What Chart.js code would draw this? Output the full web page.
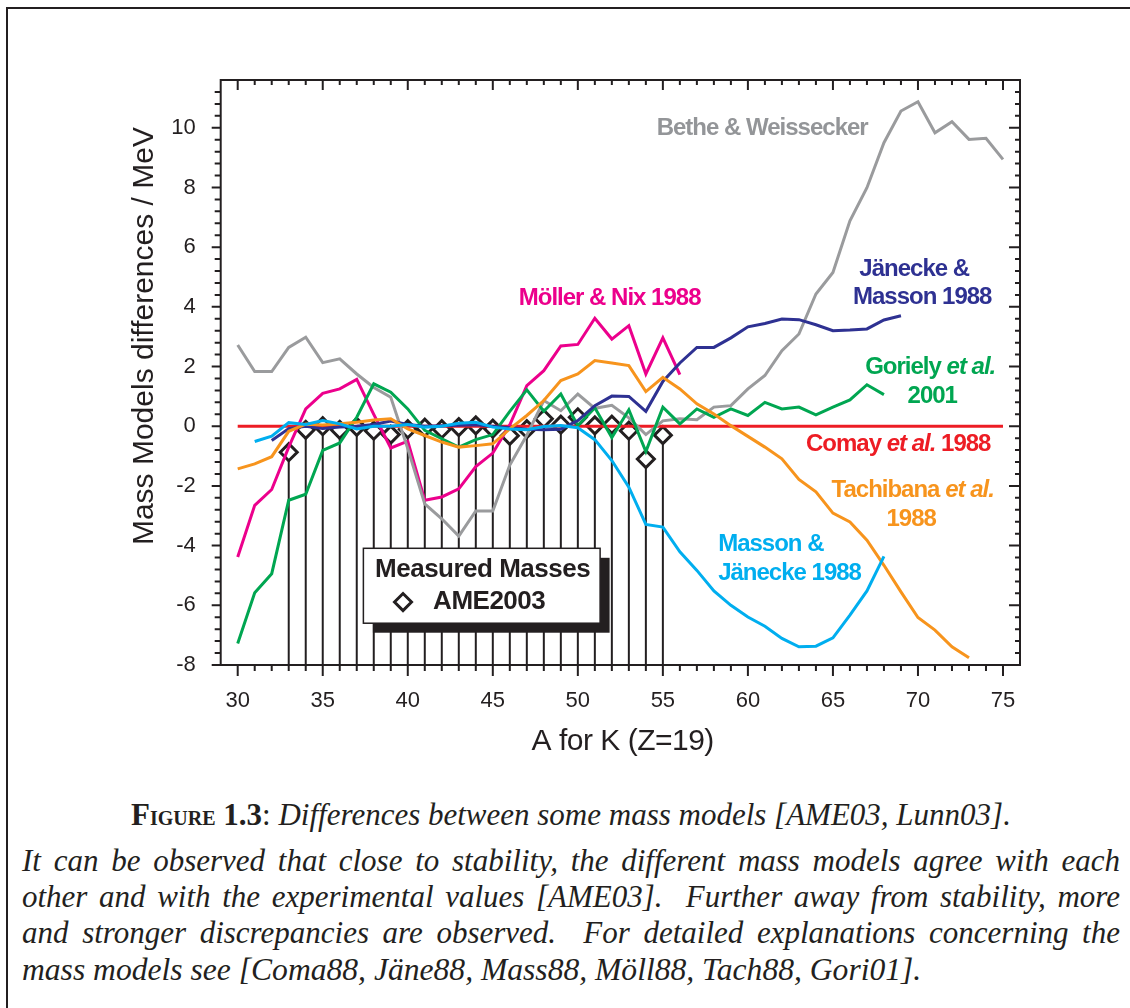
<!DOCTYPE html>
<html><head><meta charset="utf-8">
<script src="https://cdn.jsdelivr.net/npm/chart.js@4.4.0/dist/chart.umd.min.js"></script>
<style>
html,body{margin:0;padding:0;background:#fff;width:1130px;height:1008px;overflow:hidden;}
#frame{position:absolute;left:6px;top:7px;width:1300px;height:1200px;border-left:2.3px solid #231f20;border-top:2.3px solid #231f20;}
#wrap{position:absolute;left:0;top:0;width:1130px;height:785px;}
.cap{position:absolute;left:22px;width:1098px;font-family:'Liberation Serif','Times New Roman',serif;font-size:31px;line-height:36px;color:#231f20;font-style:italic;white-space:nowrap;}
.just{text-align:justify;text-align-last:justify;}
.sc{font-variant:small-caps;font-size:29px;}
</style></head>
<body>
<div id="frame"></div>
<div id="wrap"><canvas id="c" width="1130" height="785"></canvas></div>
<div class="cap" style="top:797px;text-align:center;"><b style="font-style:normal">F<span class="sc">igure</span> 1.3</b><span style="font-style:normal">:</span> Differences between some mass models [AME03, Lunn03].</div>
<div class="cap just" style="top:843px;">It can be observed that close to stability, the different mass models agree with each</div>
<div class="cap just" style="top:879px;">other and with the experimental values [AME03].&nbsp; Further away from stability, more</div>
<div class="cap just" style="top:915px;">and stronger discrepancies are observed.&nbsp; For detailed explanations concerning the</div>
<div class="cap" style="top:952px;font-size:31.6px;">mass models see [Coma88, Jäne88, Mass88, Möll88, Tach88, Gori01].</div>
<script>
// ---------------- data ----------------
const massNumbers = [30,31,32,33,34,35,36,37,38,39,40,41,42,43,44,45,46,47,48,49,50,51,52,53,54,55,56,57,58,59,60,61,62,63,64,65,66,67,68,69,70,71,72,73,74,75];
const betheWeissecker = [2.72,1.83,1.83,2.64,2.98,2.13,2.26,1.75,1.3,0.97,
  -0.75,-2.6,-3.1,-3.68,-2.84,-2.84,-1.3,-0.3,0.86,0.52,
  1.08,0.6,0.7,0.28,-0.28,0.18,0.25,0.22,0.64,0.69,
  1.25,1.7,2.53,3.09,4.43,5.15,6.88,7.99,9.5,10.56,
  10.87,9.83,10.2,9.61,9.65,8.94];
const mollerNix = [-4.38,-2.65,-2.12,-0.7,0.58,1.1,1.25,1.57,0.4,-0.73,
  -0.5,-2.48,-2.37,-2.1,-1.35,-0.9,0.05,1.36,1.86,2.69,
  2.74,3.62,2.92,3.37,1.75,2.96,1.73,null,null,null,
  null,null,null,null,null,null,null,null,null,null,
  null,null,null,null,null,null];
const goriely = [-7.28,-5.58,-4.94,-2.48,-2.28,-0.81,-0.56,0.3,1.42,1.14,
  0.58,-0.14,-0.42,-0.7,-0.45,-0.28,0.5,1.22,0.5,1.08,
  0.02,0.62,-0.38,0.55,-0.85,0.64,0.08,0.58,0.3,0.58,
  0.36,0.8,0.58,0.64,0.38,0.64,0.88,1.39,1.06,null,
  null,null,null,null,null,null];
const tachibana = [-1.43,-1.26,-1.02,-0.17,0.07,0.04,0.08,0.13,0.21,0.25,
  -0.09,-0.31,-0.53,-0.7,-0.65,-0.59,-0.09,0.36,0.86,1.53,
  1.75,2.2,2.12,2.03,1.16,1.64,1.25,0.75,0.41,0.02,
  -0.34,-0.7,-1.09,-1.78,-2.2,-2.91,-3.21,-3.82,-4.66,-5.55,
  -6.41,-6.83,-7.39,-7.76,null,null];
const massonJanecke = [null,-0.51,-0.33,0.12,0.06,0.19,0.08,-0.09,0.0,0.0,
  0.06,-0.03,0.0,0.1,0.13,-0.03,-0.09,-0.12,-0.01,0.02,
  -0.05,-0.45,-1.15,-2.04,-3.29,-3.38,-4.21,-4.83,-5.52,-6.0,
  -6.39,-6.7,-7.11,-7.39,-7.37,-7.09,-6.33,-5.52,-4.36,null,
  null,null,null,null,null,null];
const janeckeMasson = [null,null,-0.48,-0.08,0.0,-0.08,-0.03,0.0,0.06,0.17,
  0.06,0.0,0.02,0.03,0.05,0.0,-0.05,-0.1,-0.12,-0.1,
  0.19,0.69,1.01,1.0,0.5,1.5,2.12,2.64,2.64,2.96,
  3.33,3.44,3.59,3.57,3.4,3.2,3.22,3.26,3.56,3.7,
  null,null,null,null,null,null];
const comay = [0,0,0,0,0,0,0,0,0,0, 0,0,0,0,0,0,0,0,0,0, 0,0,0,0,0,0,0,0,0,0, 0,0,0,0,0,0,0,0,0,0, 0,0,0,0,0,0];
const ameMass = [33,34,35,36,37,38,39,40,41,42,43,44,45,46,47,48,49,50,51,52,53,54,55];
const ameDiff = [-0.87,-0.12,0.0,-0.12,-0.02,-0.15,-0.28,-0.1,-0.05,-0.1,-0.03,0.03,-0.08,-0.32,-0.1,0.25,0.05,0.3,0.03,0.05,-0.15,-1.1,-0.3];
const xTickValues = [30,35,40,45,50,55,60,65,70,75];
const yTickValues = [-8,-6,-4,-2,0,2,4,6,8,10];

// ---------------- styles ----------------
const INK = '#231f20';
const C = {gray:'#9a9b9d', grayTxt:'#939598', pink:'#ec008c', green:'#00a651', orange:'#f7941d', blue:'#00aeef', navy:'#2e3192', red:'#ed1c24'};
const DIAMOND_R = 8.5;
const SANS = '"Liberation Sans", Arial, Helvetica, sans-serif';

const pts = vals => massNumbers.map((a,i)=>({x:a,y:vals[i]})).filter(p=>p.y!==null);
const lineDs = (label, vals, color) => ({label, data: pts(vals), borderColor: color, borderWidth: 3, pointRadius: 0, tension: 0, fill: false, borderJoinStyle: 'miter'});

const annotations = [
  {x:60.84, y:10.06, align:'center', color:C.grayTxt, parts:[['Bethe & Weissecker',0]]},
  {x:51.87, y:4.36, align:'center', color:C.pink, parts:[['Möller & Nix 1988',0]]},
  {x:69.78, y:5.335, align:'center', color:C.navy, parts:[['Jänecke &',0]]},
  {x:70.25, y:4.397, align:'center', color:C.navy, parts:[['Masson 1988',0]]},
  {x:70.72, y:2.05, align:'center', color:C.green, parts:[['Goriely ',0],['et al.',1]]},
  {x:70.84, y:1.08, align:'center', color:C.green, parts:[['2001',0]]},
  {x:68.84, y:-0.53, align:'center', color:C.red, parts:[['Comay ',0],['et al.',1],[' 1988',0]]},
  {x:69.69, y:-2.07, align:'center', color:C.orange, parts:[['Tachibana ',0],['et al.',1]]},
  {x:69.6, y:-3.04, align:'center', color:C.orange, parts:[['1988',0]]},
  {x:58.25, y:-3.88, align:'left', color:C.blue, parts:[['Masson &',0]]},
  {x:58.25, y:-4.85, align:'left', color:C.blue, parts:[['Jänecke 1988',0]]}
];

function drawParts(ctx, parts, x, yc, align, color, size, spacing) {
  ctx.save();
  ctx.fillStyle = color;
  ctx.letterSpacing = spacing;
  ctx.textAlign = 'left';
  ctx.textBaseline = 'alphabetic';
  const fonts = parts.map(p => (p[1] ? 'italic ' : '') + 'bold ' + size + 'px ' + SANS);
  const widths = parts.map((p,i)=>{ctx.font = fonts[i]; return ctx.measureText(p[0]).width;});
  const total = widths.reduce((s,w)=>s+w,0);
  let sx = align==='center' ? x - total/2 : (align==='right' ? x - total : x);
  const base = yc + 0.716*size/2;
  parts.forEach((p,i)=>{ctx.font = fonts[i]; ctx.fillText(p[0], sx, base); sx += widths[i];});
  ctx.restore();
}

const deco = {
  id: 'deco',
  beforeDatasetsDraw(chart) {
    const {ctx, chartArea: a, scales: {x, y}} = chart;
    ctx.save();
    ctx.strokeStyle = INK; ctx.lineWidth = 2;
    ameMass.forEach((m,i)=>{
      const px = x.getPixelForValue(m);
      const py = y.getPixelForValue(ameDiff[i]) + DIAMOND_R;
      ctx.beginPath(); ctx.moveTo(px, py); ctx.lineTo(px, a.bottom); ctx.stroke();
    });
    ctx.restore();
  },
  afterDatasetsDraw(chart) {
    const {ctx, chartArea: a, scales: {x, y}} = chart;
    ctx.save();
    // legend box with shadow
    const lx0 = x.getPixelForValue(37.39), lx1 = x.getPixelForValue(51.31);
    const ly0 = y.getPixelForValue(-4.09), ly1 = y.getPixelForValue(-6.60);
    ctx.fillStyle = INK;
    ctx.fillRect(lx0 + 9.5, ly0 + 9.5, lx1 - lx0, ly1 - ly0);
    ctx.fillStyle = '#fff';
    ctx.fillRect(lx0, ly0, lx1 - lx0, ly1 - ly0);
    ctx.strokeStyle = INK; ctx.lineWidth = 1.5;
    ctx.strokeRect(lx0, ly0, lx1 - lx0, ly1 - ly0);
    drawParts(ctx, [['Measured Masses',0]], x.getPixelForValue(44.4), y.getPixelForValue(-4.75), 'center', INK, 26, '-0.5px');
    drawParts(ctx, [['AME2003',0]], x.getPixelForValue(41.49), y.getPixelForValue(-5.82), 'left', INK, 26, '-0.5px');
    const dx = x.getPixelForValue(39.72), dy = y.getPixelForValue(-5.89);
    ctx.lineWidth = 3; ctx.strokeStyle = INK;
    ctx.beginPath(); ctx.moveTo(dx - DIAMOND_R, dy); ctx.lineTo(dx, dy - DIAMOND_R); ctx.lineTo(dx + DIAMOND_R, dy); ctx.lineTo(dx, dy + DIAMOND_R); ctx.closePath(); ctx.stroke();

    // axes frame
    ctx.lineWidth = 2; ctx.strokeStyle = INK;
    ctx.strokeRect(a.left, a.top, a.right - a.left, a.bottom - a.top);
    // ticks on x (bottom outward, top inward)
    ctx.beginPath();
    for (let v = Math.ceil(x.min) + 1; v < x.max; v++) {
      const px = x.getPixelForValue(v);
      const major = v % 5 === 0;
      ctx.moveTo(px, a.bottom); ctx.lineTo(px, a.bottom + (major ? 11 : 6));
      ctx.moveTo(px, a.top); ctx.lineTo(px, a.top + (major ? 10 : 5));
    }
    // ticks on y (left outward, right inward), minor every 0.4
    for (let k = 0; k < 49; k++) {
      const v = y.min + k * 0.4;
      const py = y.getPixelForValue(v);
      const major = k % 5 === 0;
      ctx.moveTo(a.left, py); ctx.lineTo(a.left - (major ? 9 : 6), py);
      if (k > 0) { ctx.moveTo(a.right, py); ctx.lineTo(a.right - (major ? 11 : 5), py); }
    }
    ctx.stroke();

    // annotations
    annotations.forEach(n => drawParts(ctx, n.parts, x.getPixelForValue(n.x), y.getPixelForValue(n.y), n.align, n.color, 24, '-1px'));

    // axis titles
    ctx.fillStyle = INK;
    ctx.font = '30px ' + SANS;
    ctx.letterSpacing = '-0.5px';
    ctx.textAlign = 'center'; ctx.textBaseline = 'alphabetic';
    ctx.fillText('A for K (Z=19)', x.getPixelForValue(52.64), a.bottom + 85);
    ctx.save();
    ctx.translate(a.left - 68, y.getPixelForValue(3.02));
    ctx.rotate(-Math.PI / 2);
    ctx.letterSpacing = '0px';
    ctx.fillText('Mass Models differences / MeV', 0, 0);
    ctx.restore();
    ctx.restore();
  }
};

const chart = new Chart(document.getElementById('c'), {
  type: 'line',
  data: {
    datasets: [
      lineDs('Masson & Jänecke 1988', massonJanecke, C.blue),
      lineDs('Tachibana et al. 1988', tachibana, C.orange),
      lineDs('Jänecke & Masson 1988', janeckeMasson, C.navy),
      lineDs('Goriely et al. 2001', goriely, C.green),
      lineDs('Bethe & Weissecker', betheWeissecker, C.gray),
      lineDs('Möller & Nix 1988', mollerNix, C.pink),
      lineDs('Comay et al. 1988', comay, C.red),
      {label: 'AME2003', data: ameMass.map((m,i)=>({x:m, y:ameDiff[i]})), showLine: false,
       pointStyle: 'rectRot', pointRadius: DIAMOND_R, pointBorderWidth: 3, pointBorderColor: INK,
       pointBackgroundColor: 'rgba(255,255,255,0)', borderColor: INK}
    ]
  },
  options: {
    responsive: false, animation: false, devicePixelRatio: 1,
    layout: {padding: 0},
    plugins: {legend: {display: false}, tooltip: {enabled: false}},
    scales: {
      x: {type: 'linear', position: 'bottom', min: 29, max: 76,
          grid: {display: false}, border: {display: false},
          afterBuildTicks: s => { s.ticks = xTickValues.map(v => ({value: v})); },
          ticks: {font: {family: SANS, size: 22}, color: INK, padding: 15, maxRotation: 0, autoSkip: false},
          afterFit: s => { s.height = 120; }},
      y: {type: 'linear', position: 'left', min: -8, max: 11.6,
          grid: {display: false}, border: {display: false},
          afterBuildTicks: s => { s.ticks = yTickValues.map(v => ({value: v})); },
          ticks: {font: {family: SANS, size: 22}, color: INK, padding: 17, autoSkip: false},
          afterFit: s => { s.width = 220.7; }},
      x2: {type: 'linear', axis: 'x', position: 'top', min: 29, max: 76,
           grid: {display: false}, border: {display: false}, ticks: {display: false},
           afterFit: s => { s.height = 80; }},
      y2: {type: 'linear', axis: 'y', position: 'right', min: -8, max: 11.6,
           grid: {display: false}, border: {display: false}, ticks: {display: false},
           afterFit: s => { s.width = 110; }}
    }
  },
  plugins: [deco]
});
</script>
</body></html>
